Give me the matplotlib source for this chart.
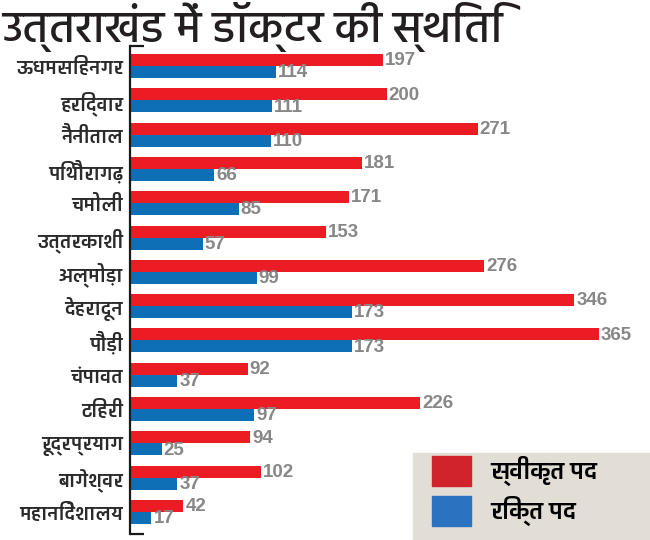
import matplotlib
matplotlib.use("Agg")
import matplotlib.pyplot as plt
import numpy as np

# data
districts = ["ऊधमसिंहनगर", "हरिद्वार", "नैनीताल", "पिथौरागढ़", "चमोली",
             "उत्तरकाशी", "अल्मोड़ा", "देहरादून", "पौड़ी", "चंपावत",
             "टिहरी", "रूद्रप्रयाग", "बागेश्वर", "महानिदेशालय"]
sanctioned = [197, 200, 271, 181, 171, 153, 276, 346, 365, 92, 226, 94, 102, 42]
vacant = [114, 111, 110, 66, 85, 57, 99, 173, 173, 37, 97, 25, 37, 17]
series_names = ["स्वीकृत पद", "रिक्त पद"]
title = "उत्तराखंड में डॉक्टर की स्थिति"

RED = "#ec1c24"
BLUE = "#0f6fb6"
GREY = "#878787"
DEVA = ["Biryani", "DejaVu Sans"]

fig = plt.figure(figsize=(6.5, 5.4), dpi=100)
ax = fig.add_axes([129.5 / 650, 6 / 540, 520.5 / 650, 488 / 540])
ax.patch.set_alpha(0)

y = np.arange(len(districts))
h = 0.35
b1 = ax.barh(y - h / 2, sanctioned, height=h, color=RED, label=series_names[0])
b2 = ax.barh(y + h / 2, vacant, height=h, color=BLUE, label=series_names[1])

for bars, vals in ((b1, sanctioned), (b2, vacant)):
    for rect, v in zip(bars, vals):
        ax.annotate(str(v), (rect.get_width(), rect.get_y() + rect.get_height() / 2),
                    xytext=(1.5, -0.5), textcoords="offset points",
                    ha="left", va="center", fontsize=13.5, fontweight="bold",
                    color=GREY, family="Liberation Sans")

ax.set_xlim(0, 405)
ax.set_ylim(13.64, -0.583)
ax.set_yticks(y)
ax.set_yticklabels(districts, family=DEVA, fontsize=14, fontweight="bold",
                   color="#2a2a2a")
ax.tick_params(axis="y", length=0, pad=4.5)
ax.set_xticks([])
for s in ("top", "right", "bottom"):
    ax.spines[s].set_visible(False)
ax.spines["left"].set_linewidth(1.6)
ax.spines["left"].set_color("#1a1a1a")
# little caps at both ends of the axis line
for yy in (0, 1):
    ax.plot([0, 0.027], [yy, yy], transform=ax.transAxes, color="#1a1a1a",
            lw=1.6, clip_on=False, solid_capstyle="butt")

# legend box behind the legend
box = plt.Rectangle((413 / 650, 0), 237 / 650, 87 / 540,
                    transform=fig.transFigure, color="#e2ddd5", zorder=-1)
fig.patches.append(box)
leg = ax.legend(handles=[b1, b2], loc="upper left",
                bbox_to_anchor=(432 / 650, 1 - 456 / 540),
                bbox_transform=fig.transFigure, frameon=False,
                prop={"family": DEVA, "size": 17.5, "weight": "bold"},
                borderpad=0, handlelength=1.6, handleheight=1.5,
                handletextpad=0.78, labelspacing=0.4, borderaxespad=0)
leg.legend_handles[0].set_color("#d0232c")
leg.legend_handles[1].set_color("#2b73c0")

fig.text(0.004, 1 - 2 / 540, title, ha="left", va="top", fontsize=32.5,
         family=["Hind", "DejaVu Sans"], fontweight="medium", color="#231f20")

fig.savefig("out.png", dpi=100)
